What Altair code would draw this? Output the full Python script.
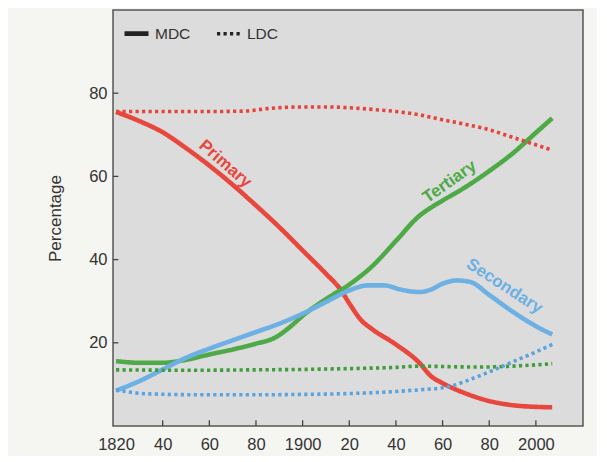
import altair as alt
import pandas as pd

FONT = "Liberation Sans"

# ---- data ----
primary_mdc_years = [1820, 1830, 1840, 1850, 1860, 1870, 1880, 1890, 1900, 1910, 1916, 1920, 1925, 1930, 1940, 1950, 1955, 1960, 1970, 1980, 1990, 2000, 2007]
primary_mdc = [75.5, 73.3, 70.6, 66.8, 62.6, 58.0, 53.0, 47.8, 42.2, 36.6, 33.0, 29.5, 25.5, 23.2, 19.6, 15.2, 12.0, 10.3, 7.8, 6.0, 5.0, 4.6, 4.5]

tertiary_mdc_years = [1820, 1830, 1840, 1850, 1860, 1870, 1880, 1888, 1895, 1900, 1910, 1920, 1930, 1940, 1950, 1955, 1960, 1970, 1980, 1990, 2000, 2007]
tertiary_mdc = [15.6, 15.2, 15.2, 15.9, 17.2, 18.4, 19.8, 21.2, 24.0, 26.5, 30.5, 34.0, 38.5, 44.5, 50.5, 52.5, 54.2, 57.5, 61.3, 65.5, 70.5, 74.0]

secondary_mdc_years = [1820, 1830, 1840, 1850, 1860, 1870, 1880, 1890, 1900, 1910, 1920, 1928, 1935, 1942, 1950, 1955, 1960, 1966, 1972, 1980, 1990, 2000, 2007]
secondary_mdc = [8.5, 10.8, 13.6, 16.4, 18.6, 20.6, 22.6, 24.6, 27.0, 29.8, 32.6, 33.8, 33.8, 32.8, 32.2, 32.8, 34.2, 35.0, 34.6, 31.5, 27.5, 24.0, 22.0]

primary_ldc_years = [1820, 1840, 1860, 1875, 1885, 1900, 1910, 1920, 1930, 1940, 1950, 1960, 1970, 1980, 1990, 2000, 2007]
primary_ldc = [75.6, 75.6, 75.6, 75.7, 76.3, 76.7, 76.7, 76.5, 76.1, 75.6, 74.8, 73.6, 72.5, 71.2, 69.4, 67.6, 66.3]

tertiary_ldc_years = [1820, 1850, 1880, 1900, 1920, 1940, 1950, 1960, 1970, 1980, 1990, 2000, 2007]
tertiary_ldc = [13.5, 13.4, 13.5, 13.6, 13.8, 14.1, 14.4, 14.3, 14.2, 14.2, 14.4, 14.7, 15.0]

secondary_ldc_years = [1820, 1825, 1835, 1860, 1880, 1900, 1920, 1940, 1950, 1960, 1965, 1970, 1980, 1990, 2000, 2007]
secondary_ldc = [8.7, 8.2, 7.7, 7.5, 7.5, 7.6, 7.8, 8.3, 8.7, 9.2, 9.8, 10.8, 13.0, 15.4, 17.8, 19.6]

series_names = ["Primary MDC", "Tertiary MDC", "Secondary MDC", "Primary LDC", "Tertiary LDC", "Secondary LDC"]
series_types = ["MDC", "MDC", "MDC", "LDC", "LDC", "LDC"]
series_colors = ["#e8473d", "#4eaa46", "#6cb0e4", "#e5443c", "#3f9d3c", "#5ba3de"]
series_years = [primary_mdc_years, tertiary_mdc_years, secondary_mdc_years, primary_ldc_years, tertiary_ldc_years, secondary_ldc_years]
series_values = [primary_mdc, tertiary_mdc, secondary_mdc, primary_ldc, tertiary_ldc, secondary_ldc]

label_texts = ["Primary", "Tertiary", "Secondary"]
label_years = [1866.8, 1963.0, 1986.5]
label_values = [63.0, 58.7, 33.6]
label_angles = [41, 325, 33]
label_colors = ["#e8473d", "#4eaa46", "#6cb0e4"]

x_tick_values = [1820, 1840, 1860, 1880, 1900, 1920, 1940, 1960, 1980, 2000]
y_tick_values = [20, 40, 60, 80]

# ---- build tables ----
rows = []
for name, typ, ys, vs in zip(series_names, series_types, series_years, series_values):
    for yr, v in zip(ys, vs):
        rows.append({"series": name, "type": typ, "year": yr, "value": v})
df = pd.DataFrame(rows)

x_scale = alt.Scale(domain=[1818.7, 2020.2], nice=False, zero=False)
y_scale = alt.Scale(domain=[0, 100], nice=False, zero=False)

x_axis = alt.Axis(
    values=x_tick_values,
    labelExpr="(datum.value % 100 == 0 || datum.value == 1820) ? '' + datum.value : '' + (datum.value % 100)",
    title=None, grid=False, domain=False, ticks=False, tickSize=0,
    labelPadding=10, labelFontSize=16.5, labelColor="#333333", labelFont=FONT,
)
y_axis = alt.Axis(
    values=y_tick_values, title="Percentage", grid=False, domain=False, ticks=False, tickSize=0,
    labelPadding=6, labelFontSize=16.5, labelColor="#333333", labelFont=FONT,
    titleFont=FONT, titleFontSize=17, titleFontWeight="normal", titleColor="#333333", titlePadding=24,
)

lines = alt.Chart(df).mark_line(interpolate="monotone", strokeCap="butt").encode(
    x=alt.X("year:Q", scale=x_scale, axis=x_axis),
    y=alt.Y("value:Q", scale=y_scale, axis=y_axis),
    color=alt.Color("series:N", scale=alt.Scale(domain=series_names, range=series_colors), legend=None),
    strokeDash=alt.StrokeDash(
        "type:N",
        scale=alt.Scale(domain=["MDC", "LDC"], range=[[1, 0], [3.2, 3.3]]),
        legend=alt.Legend(
            orient="none", legendX=9, legendY=9, direction="horizontal", title=None,
            symbolType="stroke", symbolSize=576, symbolStrokeWidth=4, symbolStrokeColor="#222222",
            labelFont=FONT, labelFontSize=15.5, labelColor="#333333", labelOffset=4, columnPadding=18,
        ),
    ),
    strokeWidth=alt.StrokeWidth("type:N", scale=alt.Scale(domain=["MDC", "LDC"], range=[4.6, 3.6]), legend=None),
)

# inward tick marks
xt = pd.DataFrame({"year": x_tick_values[1:], "y0": [0.0] * (len(x_tick_values) - 1), "y1": [1.4] * (len(x_tick_values) - 1)})
yt = pd.DataFrame({"value": y_tick_values, "x0": [1818.7] * len(y_tick_values), "x1": [1821.0] * len(y_tick_values)})
x_ticks = alt.Chart(xt).mark_rule(color="#444444", strokeWidth=1.3).encode(
    x=alt.X("year:Q", scale=x_scale), y=alt.Y("y0:Q", scale=y_scale), y2="y1:Q"
)
y_ticks = alt.Chart(yt).mark_rule(color="#444444", strokeWidth=1.3).encode(
    y=alt.Y("value:Q", scale=y_scale), x=alt.X("x0:Q", scale=x_scale), x2="x1:Q"
)

layers = [lines, x_ticks, y_ticks]
for t, yr, v, a, c in zip(label_texts, label_years, label_values, label_angles, label_colors):
    ldf = pd.DataFrame({"label": [t], "year": [yr], "value": [v], "angle": [a]})
    layers.append(
        alt.Chart(ldf).mark_text(font=FONT, fontSize=17, fontWeight="bold", color=c, align="center", baseline="middle").encode(
            x=alt.X("year:Q", scale=x_scale), y=alt.Y("value:Q", scale=y_scale),
            text="label:N", angle=alt.Angle("angle:Q", scale=None),
        )
    )

chart = alt.layer(*layers).properties(
    width=470, height=416,
    autosize=alt.AutoSizeParams(type="none"),
    padding={"left": 105, "top": 2, "right": 14, "bottom": 30},
    background="#f5f5f2",
).configure_view(
    fill="#dcdcdc", stroke="#555555", strokeWidth=1.5
)

chart.save("out.html", embed_options={"renderer": "svg", "actions": False})
